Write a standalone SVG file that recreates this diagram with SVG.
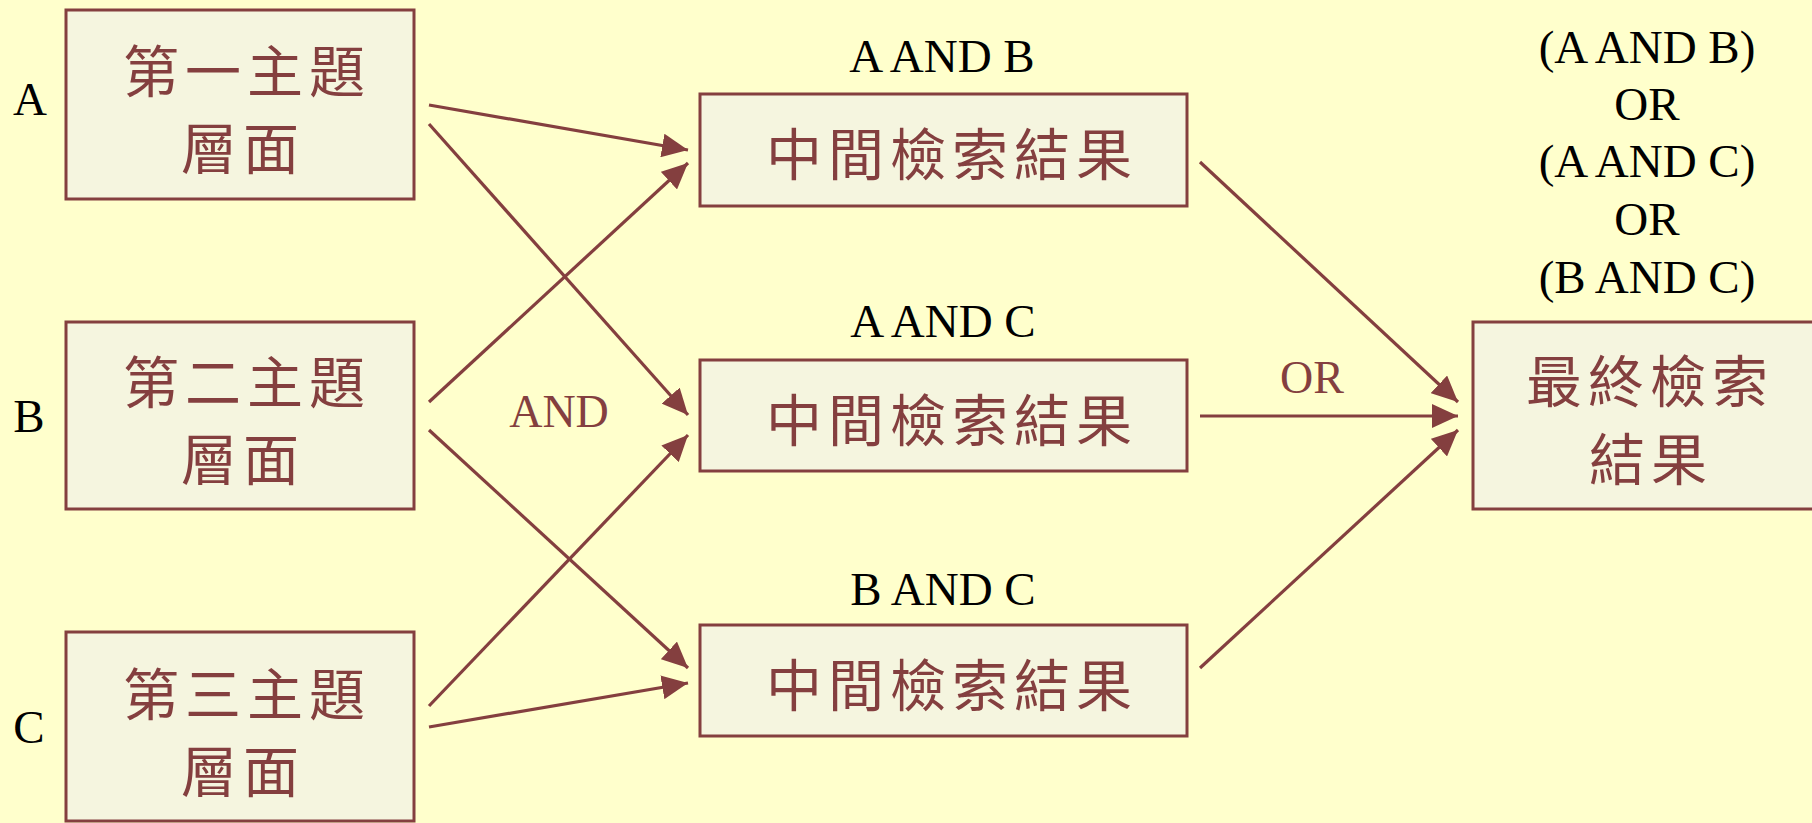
<svg xmlns="http://www.w3.org/2000/svg" width="1812" height="823" viewBox="0 0 1812 823">
<style>
.bg{fill:#FFFFCC}
.box{fill:#F5F5DF;stroke:#843F3F;stroke-width:3}
.cjk{font-family:"Noto Sans CJK TC","Noto Sans CJK SC",sans-serif;font-size:56px;fill:#843F3F;letter-spacing:6px;text-anchor:middle}
.lat{font-family:"Liberation Serif",serif;font-size:47px;fill:#000;text-anchor:middle}
.op{font-family:"Liberation Serif",serif;font-size:46px;fill:#843F3F;text-anchor:middle}
.conn line{stroke:#843F3F;stroke-width:3.2;marker-end:url(#ah)}
</style>
<defs>
<marker id="ah" markerUnits="userSpaceOnUse" markerWidth="26" markerHeight="24" refX="26" refY="12" orient="auto">
<path d="M0,0 L26,12 L0,24 Z" fill="#843F3F"/>
</marker>
</defs>
<rect class="bg" x="0" y="0" width="1812" height="823"/>

<g id="labelA"><text class="lat" x="30" y="115" style="font-size:47px">A</text></g>
<g id="labelB"><text class="lat" x="29" y="432" style="font-size:47px">B</text></g>
<g id="labelC"><text class="lat" x="29" y="743" style="font-size:47px">C</text></g>

<g id="nodeA">
<rect class="box" x="66" y="10" width="348" height="189"/>
<text class="cjk" x="247" y="92">第一主題</text>
<text class="cjk" x="243" y="169">層面</text>
</g>
<g id="nodeB">
<rect class="box" x="66" y="322" width="348" height="187"/>
<text class="cjk" x="247" y="403">第二主題</text>
<text class="cjk" x="243" y="480">層面</text>
</g>
<g id="nodeC">
<rect class="box" x="66" y="632" width="348" height="189"/>
<text class="cjk" x="247" y="715">第三主題</text>
<text class="cjk" x="243" y="792">層面</text>
</g>

<g id="mid1">
<text class="lat" x="942" y="72">A AND B</text>
<rect class="box" x="700" y="94" width="487" height="112"/>
<text class="cjk" x="952" y="175">中間檢索結果</text>
</g>
<g id="mid2">
<text class="lat" x="943" y="337">A AND C</text>
<rect class="box" x="700" y="360" width="487" height="111"/>
<text class="cjk" x="952" y="441">中間檢索結果</text>
</g>
<g id="mid3">
<text class="lat" x="943" y="605">B AND C</text>
<rect class="box" x="700" y="625" width="487" height="111"/>
<text class="cjk" x="952" y="706">中間檢索結果</text>
</g>

<g id="final">
<text class="lat" x="1647" y="63">(A AND B)</text>
<text class="lat" x="1647" y="120">OR</text>
<text class="lat" x="1647" y="177">(A AND C)</text>
<text class="lat" x="1647" y="235">OR</text>
<text class="lat" x="1647" y="293">(B AND C)</text>
<rect class="box" x="1473" y="322" width="360" height="187"/>
<text class="cjk" x="1650" y="402">最終檢索</text>
<text class="cjk" x="1651" y="480">結果</text>
</g>

<g id="connectors" class="conn">
<line x1="429" y1="105" x2="688" y2="150"/>
<line x1="429" y1="124" x2="688" y2="415"/>
<line x1="429" y1="402" x2="688" y2="163"/>
<line x1="429" y1="430" x2="688" y2="668"/>
<line x1="429" y1="706" x2="688" y2="435"/>
<line x1="429" y1="727" x2="688" y2="683"/>
<line x1="1200" y1="162" x2="1458" y2="402"/>
<line x1="1200" y1="416" x2="1458" y2="416"/>
<line x1="1200" y1="668" x2="1458" y2="430"/>
<text class="op" x="559" y="427" stroke="none">AND</text>
<text class="op" x="1312" y="393" stroke="none">OR</text>
</g>
</svg>
